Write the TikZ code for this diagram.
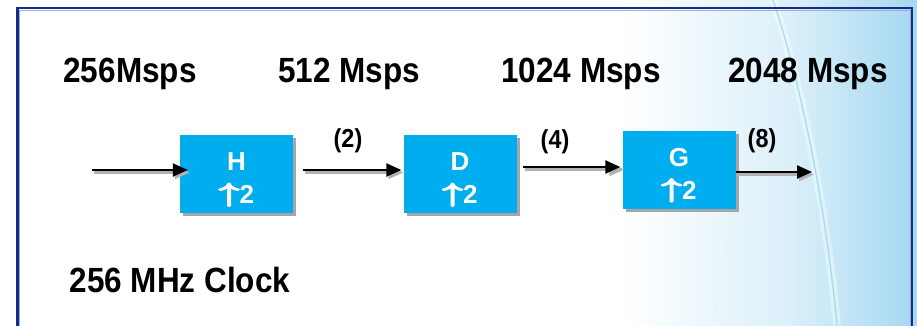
\documentclass[tikz,border=0pt]{standalone}
\usepackage{fontspec}
\usepackage{graphicx}
\setmainfont{Liberation Sans}
\newfontfamily\narrowfont{Liberation Sans}[FakeStretch=0.9]
\newfontfamily\arrowfont{latinmodern-math.otf}[FakeBold=6]
\usetikzlibrary{arrows.meta,shadows}
\definecolor{boxblue}{RGB}{0,174,239}
\definecolor{framebl}{RGB}{20,45,140}
\definecolor{bgblue}{RGB}{165,216,240}
\definecolor{curvec}{RGB}{140,220,235}
\tikzset{
  rate/.style={font=\narrowfont\bfseries\fontsize{35}{40}\selectfont, anchor=center},
  fac/.style={font=\narrowfont\bfseries\fontsize{26}{30}\selectfont, anchor=center},
  upbox/.style={fill=boxblue, minimum width=113pt, minimum height=78pt, inner sep=0pt,
    text=white, font=\bfseries\fontsize{26}{33}\selectfont, align=center,
    drop shadow={shadow xshift=3pt, shadow yshift=-3pt, fill=black!35, opacity=1}},
  flow/.style={line width=2.4pt, -{Triangle[length=15pt,width=13pt]}},
  flowsh/.style={line width=2.4pt, draw=black!30, -{Triangle[length=15pt,width=13pt]}}
}
\newcommand{\upar}{\raisebox{3pt}{\scalebox{1.5}[0.95]{\arrowfont\fontsize{27}{29}\selectfont ↑}}\kern0.5pt}
\newcommand{\topstrut}{\rule{0pt}{29pt}}
\begin{document}
\begin{tikzpicture}[x=1pt,y=-1pt]
\useasboundingbox (0,0) rectangle (917,325);
% background
\fill[white] (0,0) rectangle (917,325);
\shade[left color=white, right color=bgblue!40] (620,0) rectangle (790,325);
\shade[left color=bgblue!40, right color=bgblue] (789.5,0) rectangle (917,325);
% faint curves
\draw[white!75!curvec, line width=1.5pt, opacity=0.8] (730,0) .. controls (748,100) and (735,220) .. (713,325);
\draw[white, line width=8pt, opacity=0.4] (773,0) .. controls (800,80) and (825,200) .. (837,325);
\draw[curvec, line width=1.3pt, opacity=0.8] (773,0) .. controls (800,80) and (825,200) .. (837,325);
% frame
\draw[framebl, line width=2.2pt] (17.5,330) -- (17.5,8) -- (912,8) -- (912,330);
\draw[framebl!40, line width=0.8pt] (19.5,330) -- (19.5,10) -- (910,10) -- (910,330);
% rates
\node[rate] (r1) at (130,74) {256Msps};
\node[rate] (r2) at (349,74) {512 Msps};
\node[rate] (r3) at (581,74) {1024 Msps};
\node[rate] (r4) at (808,74) {2048 Msps};
\node[rate] (clk) at (180,280) {256 MHz Clock};
% boxes
\node[upbox] (H) at (236.5,174) {\topstrut H\\\upar2};
\node[upbox] (D) at (460,174) {\topstrut D\\\upar2};
\node[upbox] (G) at (679,169.5) {\topstrut G\\\upar2};
% factor labels
\node[fac] (f2) at (348,141) {(2)};
\node[fac] (f4) at (555,142) {(4)};
\node[fac] (f8) at (762,141) {(8)};
% connectors
\coordinate (in) at (92,170);
\coordinate (out) at (812,172);
\draw[flowsh] ([shift={(2,2.5)}]in) -- ([shift={(10,2.5)}]H.west |- in);
\draw[flow] (in) -- ([xshift=8]H.west |- in);
\draw[flowsh] ([shift={(12,2.5)}]H.east |- 0,170) -- ([shift={(0,2.5)}]D.west |- 0,170);
\draw[flow] ([xshift=10]H.east |- 0,170) -- ([xshift=-2]D.west |- 0,170);
\draw[flowsh] ([shift={(8,2.5)}]D.east |- 0,167) -- ([shift={(2,2.5)}]G.west |- 0,167);
\draw[flow] ([xshift=6]D.east |- 0,167) -- ([xshift=-2]G.west |- 0,167);
\draw[flowsh] ([shift={(2,2.5)}]G.east |- out) -- ([shift={(2,2.5)}]out);
\draw[flow] (G.east |- out) -- (out);
\end{tikzpicture}
\end{document}
